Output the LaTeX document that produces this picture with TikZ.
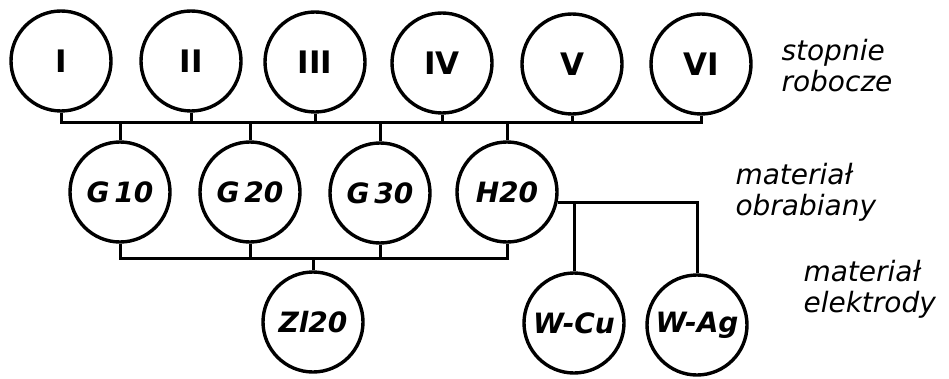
\documentclass[tikz,border=0pt]{standalone}
\usepackage{fontspec}
\setmainfont{DejaVu Sans}
\usepackage{tikz}
\usetikzlibrary{positioning,calc}
\tikzset{
  krag/.style={circle,draw,line width=3.4pt,minimum size=100pt,inner sep=0pt},
  rzym/.style={krag,font=\fontsize{31}{31}\selectfont\bfseries},
  mat/.style={krag,font=\fontsize{28}{28}\selectfont\bfseries\itshape},
  conn/.style={line width=3pt},
  opis/.style={anchor=west,align=left,font=\fontsize{28}{31}\selectfont\itshape},
}

\begin{document}
\begin{tikzpicture}[x=1pt,y=1pt]
        \useasboundingbox (0,0) rectangle (949,378);
        % stopnie robocze
        \node[rzym] (st1) at (61,317) {I};
        \node[rzym] (st2) at (191,317) {II};
        \node[rzym] (st3) at (315,316) {III};
        \node[rzym] (st4) at (442,315) {IV};
        \node[rzym] (st5) at (572,314) {V};
        \node[rzym] (st6) at (701,314) {VI};
        % materialy obrabiane
        \node[mat] (g10) at (120,186) {G\,10};
        \node[mat] (g20) at (250,186) {G\,20};
        \node[mat] (g30) at (380,185) {G\,30};
        \node[mat] (h20) at (507,186) {H20};
        % elektrody
        \node[mat] (zl20) at (313,56) {Zl20};
        \node[mat] (wcu) at (574,55) {W-Cu};
        \node[mat] (wag) at (697,53) {W-Ag};
        % szyny
        \coordinate (bus) at (0,255);
        \coordinate (lbus) at (0,120);
        \draw[conn] (st1.south) |- (st6.south |- bus) -- (st6.south);
        \foreach \n in {st2,st3,st4,st5}
          \draw[conn] (\n.south) -- (\n.south |- bus);
        \foreach \n in {g10,g20,g30,h20}
          \draw[conn] (\n.north) -- (\n.north |- bus);
        \draw[conn] (g10.south) |- (h20.south |- lbus) -- (h20.south);
        \foreach \n in {g20,g30}
          \draw[conn] (\n.south) -- (\n.south |- lbus);
        \draw[conn] (zl20.north) -- (zl20.north |- lbus);
        \draw[conn] (h20.-12) -| (wag.north);
        \draw[conn] (wcu.north) -- (wcu.north |- h20.-12);
        % opisy
        \node[opis] (lst) at (778,312) {stopnie\\robocze};
        \node[opis] (lmat) at (732,186) {materiał\\obrabiany};
        \node[opis] (lel) at (800,89) {materiał\\elektrody};
      \end{tikzpicture}
\end{document}
